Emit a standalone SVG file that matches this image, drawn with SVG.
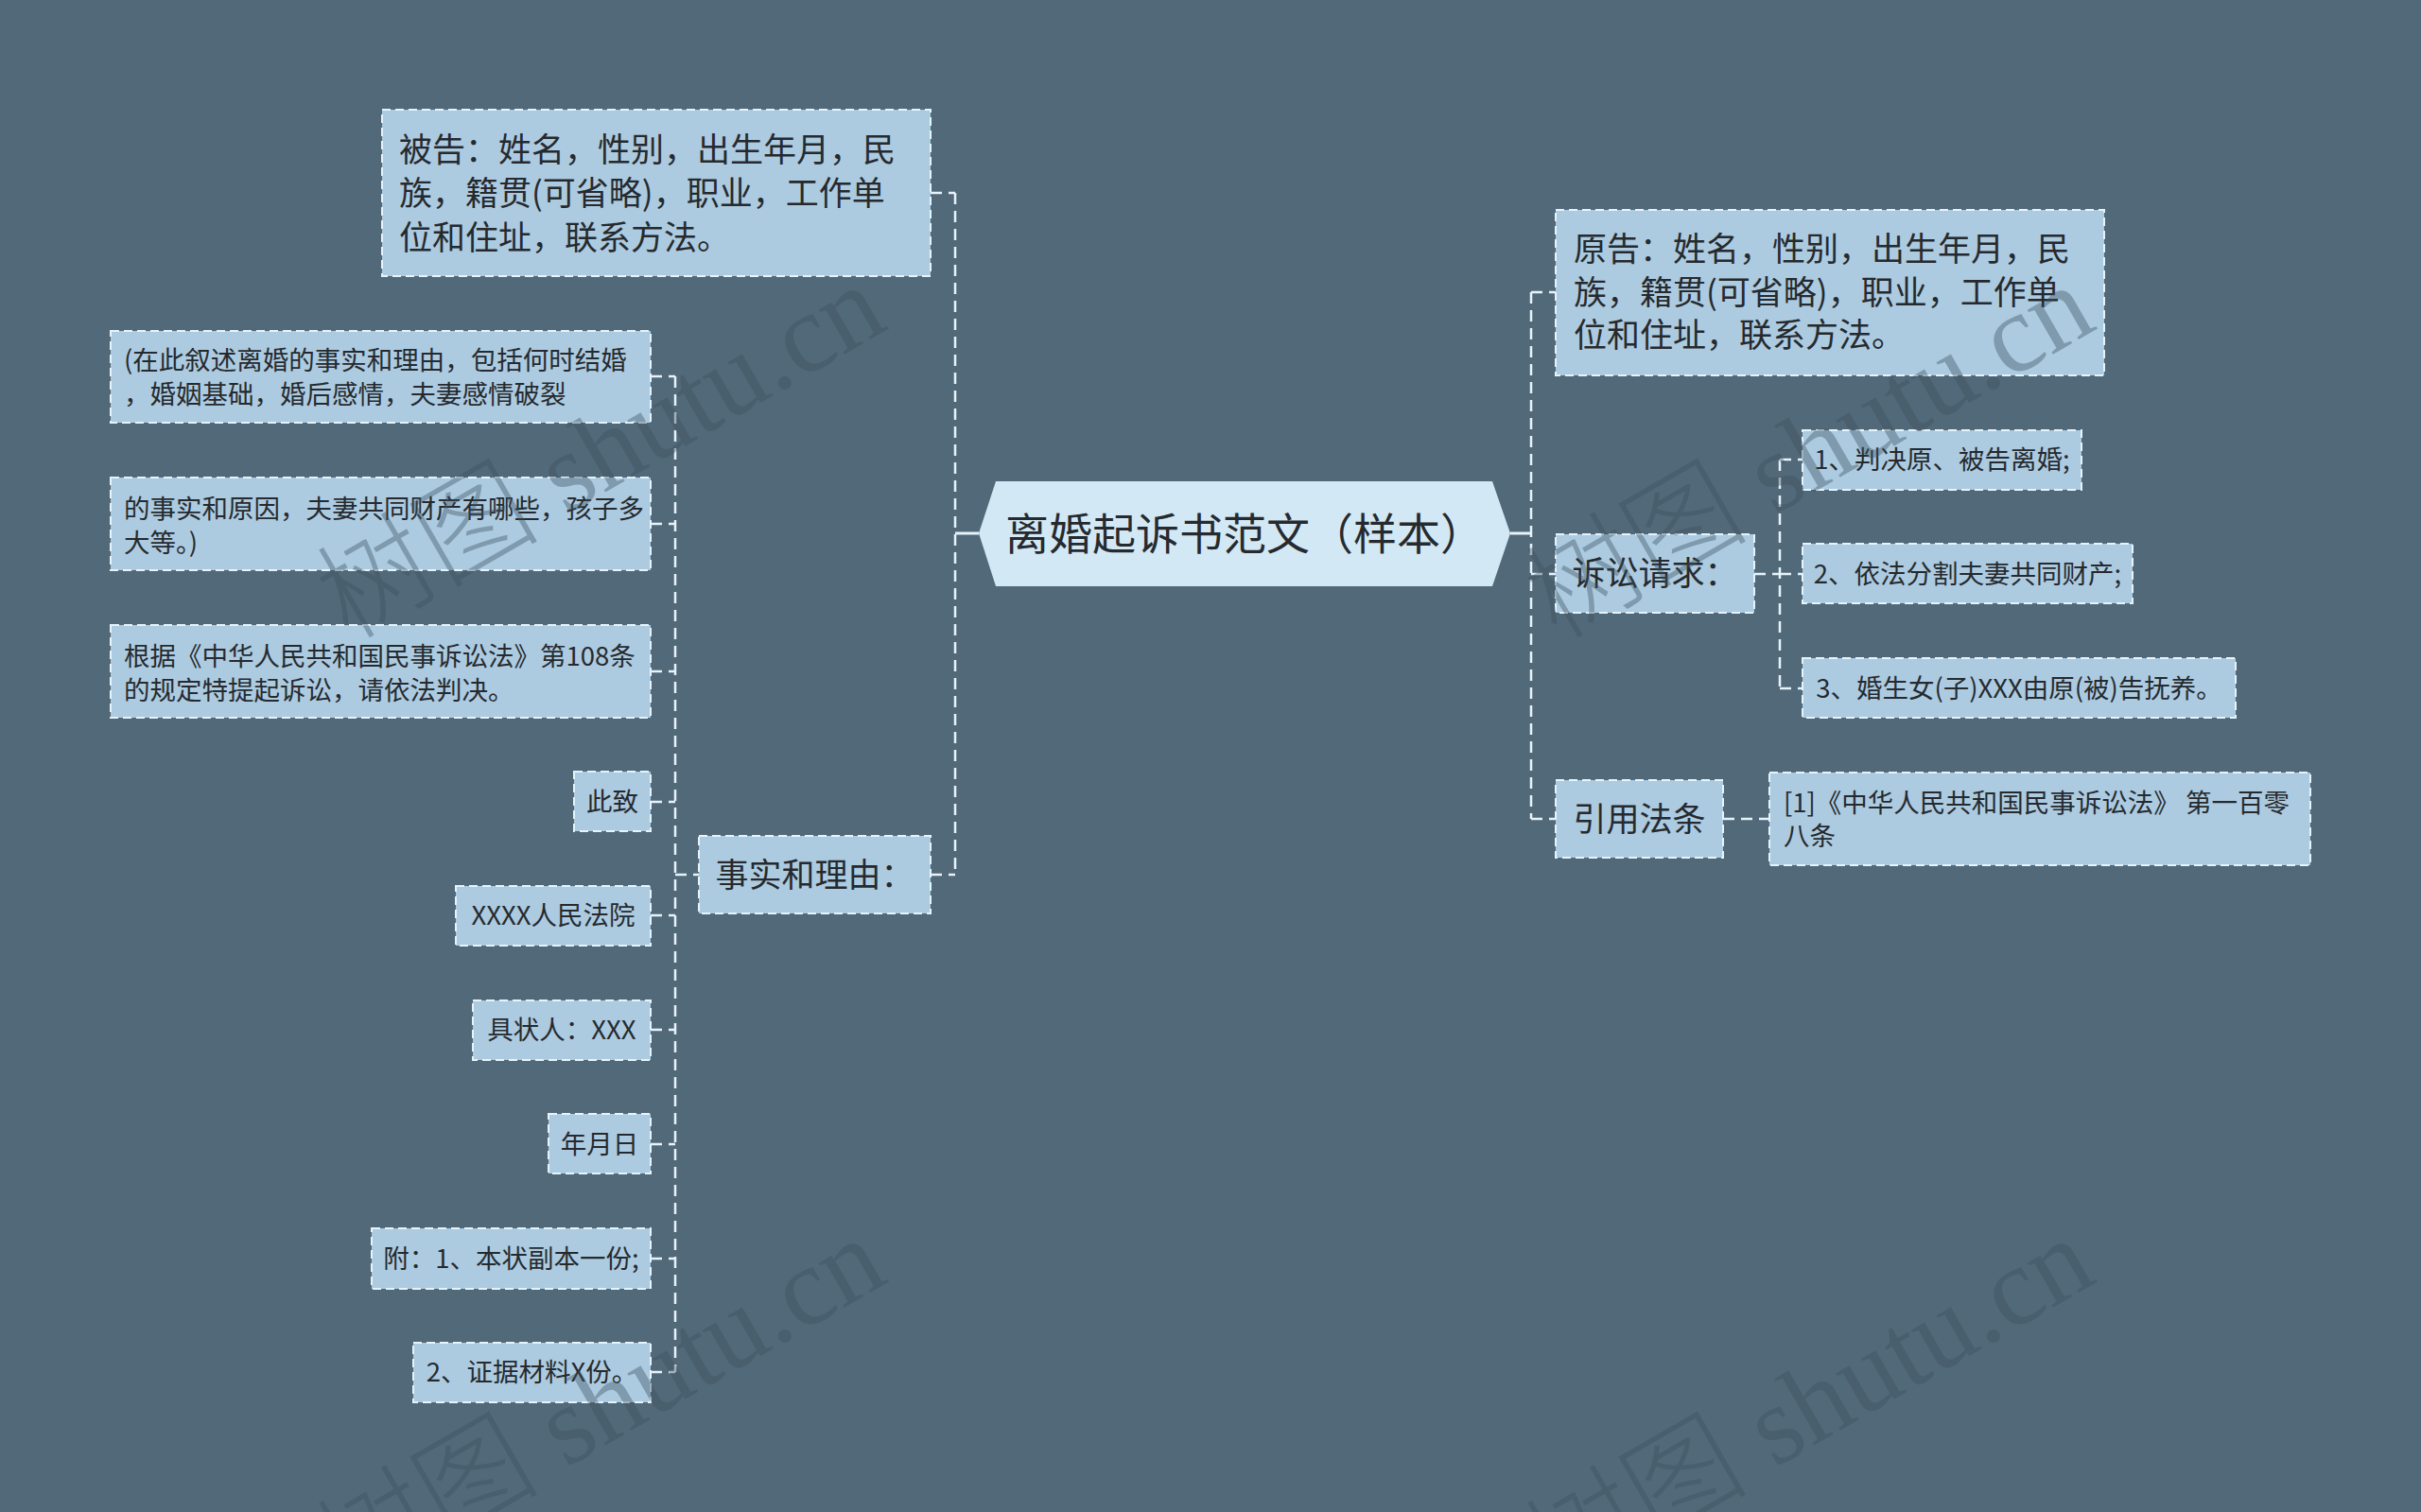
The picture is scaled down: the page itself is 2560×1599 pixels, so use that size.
<svg xmlns="http://www.w3.org/2000/svg" width="2560" height="1599" viewBox="0 0 2560 1599">
<style>
.bg{fill:#526979}
.box{fill:#accbe1;stroke:#e6f3fb;stroke-width:2;stroke-dasharray:9 5}
.root{fill:#d2e8f5}
.t{font-family:"Noto Sans CJK SC","Noto Sans",sans-serif;fill:#262a2e}
.f44{font-size:46px}
.f35{font-size:35px}
.f28{font-size:27.5px}
.mid{text-anchor:middle}
.c{fill:none;stroke:#e6f3fb;stroke-width:2.5;stroke-dasharray:12 7}
.cs{fill:none;stroke:#e6f3fb;stroke-width:3}
.wm{font-family:"Liberation Serif","Noto Sans CJK SC",serif;font-weight:300;font-size:118px;fill:#3d505e;fill-opacity:0.4}
</style>
<rect class="bg" x="0" y="0" width="2560" height="1599"/>

<g id="connectors">
  <path class="cs" d="M1010 564 H1035"/>
  <path class="cs" d="M1597 564 H1619"/>
  <path class="c" d="M1010 204 V925"/>
  <path class="c" d="M984 204 H1010"/>
  <path class="c" d="M984 925 H1010"/>
  <path class="c" d="M714 398 V1451"/>
  <path class="c" d="M714 925 H739"/>
  <path class="c" d="M688 398 H714 M688 554 H714 M688 710 H714 M688 848 H714 M688 968 H714 M688 1089 H714 M688 1210 H714 M688 1331 H714 M688 1451 H714"/>
  <path class="c" d="M1619 309 V866"/>
  <path class="c" d="M1619 309 H1645 M1619 607 H1645 M1619 866 H1645"/>
  <path class="c" d="M1855 607 H1882"/>
  <path class="c" d="M1882 486 V728"/>
  <path class="c" d="M1882 486 H1906 M1882 607 H1906 M1882 728 H1906"/>
  <path class="c" d="M1822 866 H1871"/>
</g>

<g id="root">
  <polygon class="root" points="1035,564 1053,509 1578,509 1597,564 1578,620 1053,620"/>
  <text class="t f44 mid" x="1316" y="581">离婚起诉书范文（样本）</text>
</g>

<g id="n-beigao">
  <rect class="box" x="404" y="116" width="580" height="176"/>
  <text class="t f35" x="422" y="171">被告：姓名，性别，出生年月，民</text>
  <text class="t f35" x="422" y="217">族，籍贯(可省略)，职业，工作单</text>
  <text class="t f35" x="422" y="264">位和住址，联系方法。</text>
</g>

<g id="n-shishi">
  <rect class="box" x="739" y="884" width="245" height="82"/>
  <text class="t f35 mid" x="861.5" y="938">事实和理由：</text>
</g>

<g id="n-l1">
  <rect class="box" x="117" y="350" width="571" height="97"/>
  <text class="t f28" x="131" y="391">(在此叙述离婚的事实和理由，包括何时结婚</text>
  <text class="t f28" x="131" y="427">，婚姻基础，婚后感情，夫妻感情破裂</text>
</g>
<g id="n-l2">
  <rect class="box" x="117" y="505" width="571" height="98"/>
  <text class="t f28" x="131" y="548">的事实和原因，夫妻共同财产有哪些，孩子多</text>
  <text class="t f28" x="131" y="584">大等。)</text>
</g>
<g id="n-l3">
  <rect class="box" x="117" y="661" width="571" height="98"/>
  <text class="t f28" x="131" y="704">根据《中华人民共和国民事诉讼法》第108条</text>
  <text class="t f28" x="131" y="740">的规定特提起诉讼，请依法判决。</text>
</g>
<g id="n-l4">
  <rect class="box" x="607" y="816" width="81" height="63"/>
  <text class="t f28 mid" x="647.5" y="858">此致</text>
</g>
<g id="n-l5">
  <rect class="box" x="482" y="937" width="206" height="63"/>
  <text class="t f28 mid" x="585" y="978">XXXX人民法院</text>
</g>
<g id="n-l6">
  <rect class="box" x="500" y="1058" width="188" height="63"/>
  <text class="t f28 mid" x="594" y="1099">具状人：XXX</text>
</g>
<g id="n-l7">
  <rect class="box" x="580" y="1178" width="108" height="63"/>
  <text class="t f28 mid" x="634" y="1220">年月日</text>
</g>
<g id="n-l8">
  <rect class="box" x="393" y="1299" width="295" height="64"/>
  <text class="t f28 mid" x="540.5" y="1341">附：1、本状副本一份;</text>
</g>
<g id="n-l9">
  <rect class="box" x="437" y="1420" width="251" height="63"/>
  <text class="t f28 mid" x="562.5" y="1461">2、证据材料X份。</text>
</g>

<g id="n-yuangao">
  <rect class="box" x="1645" y="222" width="580" height="175"/>
  <text class="t f35" x="1664" y="276">原告：姓名，性别，出生年月，民</text>
  <text class="t f35" x="1664" y="322">族，籍贯(可省略)，职业，工作单</text>
  <text class="t f35" x="1664" y="367">位和住址，联系方法。</text>
</g>

<g id="n-susong">
  <rect class="box" x="1645" y="565" width="210" height="83"/>
  <text class="t f35 mid" x="1750" y="619">诉讼请求：</text>
</g>
<g id="n-r1">
  <rect class="box" x="1906" y="455" width="295" height="63"/>
  <text class="t f28 mid" x="2053.5" y="496">1、判决原、被告离婚;</text>
</g>
<g id="n-r2">
  <rect class="box" x="1906" y="575" width="349" height="63"/>
  <text class="t f28 mid" x="2080.5" y="617">2、依法分割夫妻共同财产;</text>
</g>
<g id="n-r3">
  <rect class="box" x="1906" y="696" width="458" height="63"/>
  <text class="t f28 mid" x="2135" y="738">3、婚生女(子)XXX由原(被)告抚养。</text>
</g>

<g id="n-yinyong">
  <rect class="box" x="1645" y="825" width="177" height="82"/>
  <text class="t f35 mid" x="1733.5" y="879">引用法条</text>
</g>
<g id="n-fatiao">
  <rect class="box" x="1871" y="817" width="572" height="98"/>
  <text class="t f28" x="1886" y="859">[1]《中华人民共和国民事诉讼法》 第一百零</text>
  <text class="t f28" x="1886" y="894">八条</text>
</g>

<g id="watermarks">
  <text class="wm mid" transform="translate(655 512) rotate(-30)">树图 shutu.cn</text>
  <text class="wm mid" transform="translate(1933 512) rotate(-30)">树图 shutu.cn</text>
  <text class="wm mid" transform="translate(655 1520) rotate(-30)">树图 shutu.cn</text>
  <text class="wm mid" transform="translate(1933 1520) rotate(-30)">树图 shutu.cn</text>
</g>
</svg>
